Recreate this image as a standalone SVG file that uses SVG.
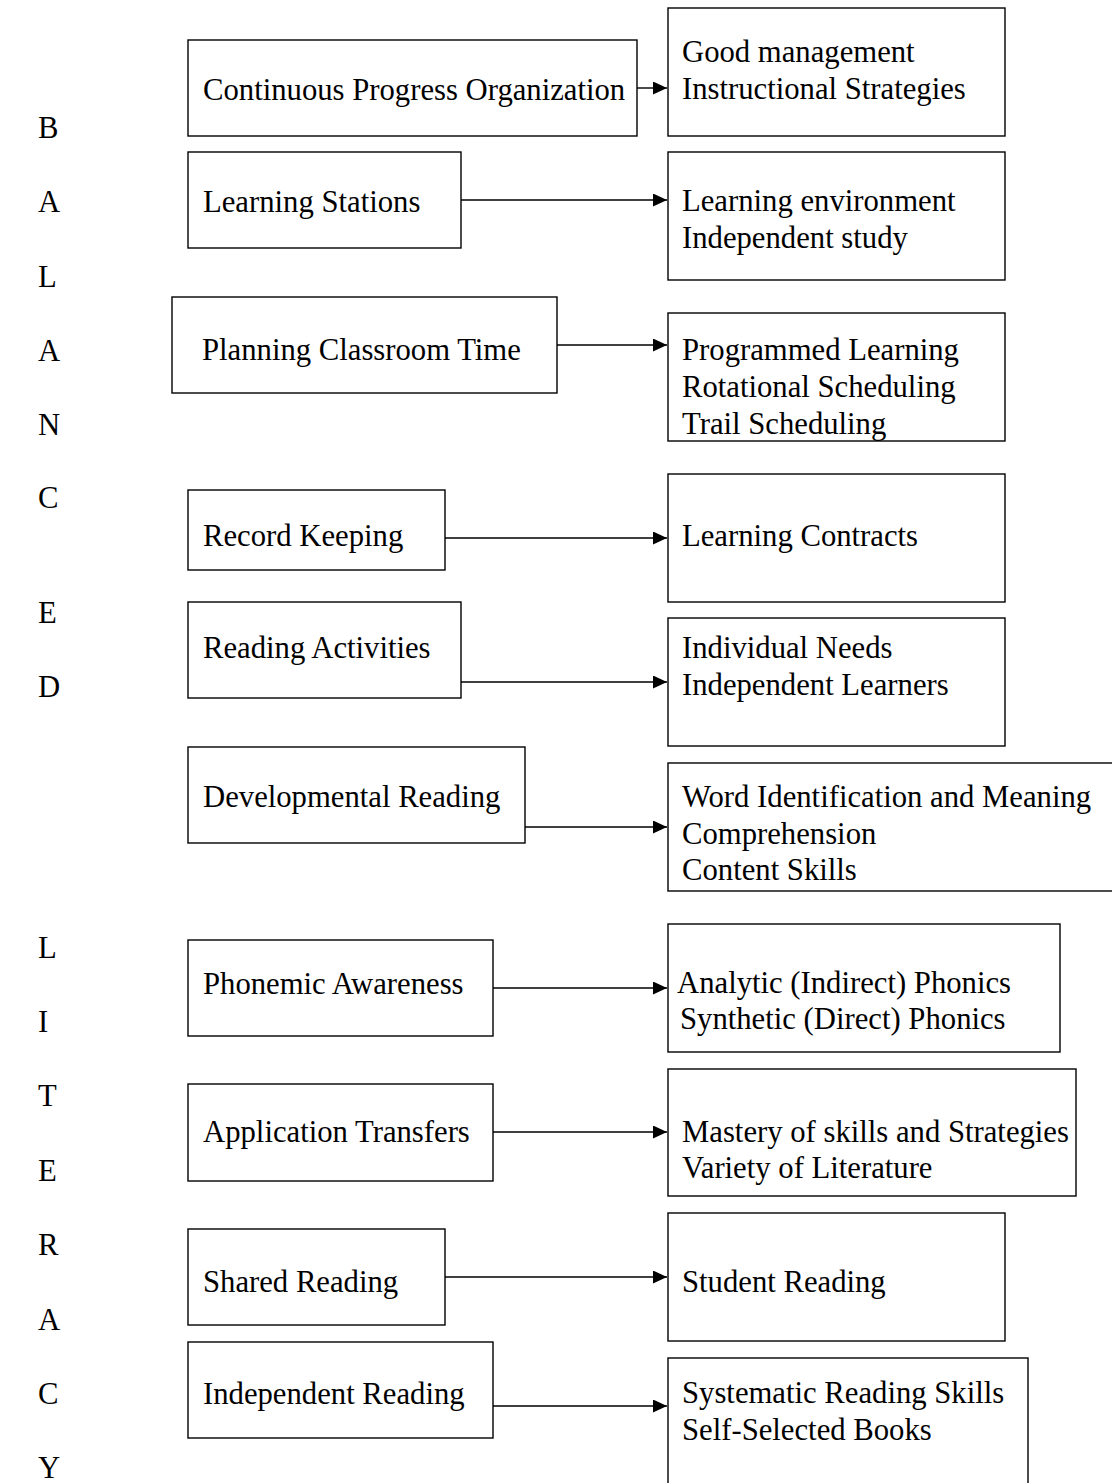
<svg xmlns="http://www.w3.org/2000/svg" width="1112" height="1483" viewBox="0 0 1112 1483">
<style>
  .box { fill: #ffffff; stroke: #000000; stroke-width: 1.4; }
  .t { font-family: "Liberation Serif", "Times New Roman", serif; font-size: 30.7px; fill: #000000; }
  .c { stroke: #000000; stroke-width: 1.4; fill: none; marker-end: url(#ah); }
</style>
<defs>
  <marker id="ah" markerUnits="userSpaceOnUse" markerWidth="15" markerHeight="14" refX="14" refY="6.5" orient="auto">
    <path d="M0,0 L14,6.5 L0,13 Z" fill="#000000"/>
  </marker>
</defs>
<rect width="1112" height="1483" fill="#ffffff"/>

<g id="side-letters">
  <text class="t" x="38" y="138">B</text>
  <text class="t" x="38" y="212">A</text>
  <text class="t" x="38" y="287">L</text>
  <text class="t" x="38" y="361">A</text>
  <text class="t" x="38" y="435">N</text>
  <text class="t" x="38" y="508">C</text>
  <text class="t" x="38" y="623">E</text>
  <text class="t" x="38" y="697">D</text>
  <text class="t" x="38" y="958">L</text>
  <text class="t" x="38" y="1032">I</text>
  <text class="t" x="38" y="1106">T</text>
  <text class="t" x="38" y="1181">E</text>
  <text class="t" x="38" y="1255">R</text>
  <text class="t" x="38" y="1330">A</text>
  <text class="t" x="38" y="1404">C</text>
  <text class="t" x="38" y="1478">Y</text>
</g>

<g id="connectors">
  <line class="c" x1="637" y1="88" x2="667" y2="88"/>
  <line class="c" x1="461" y1="200" x2="667" y2="200"/>
  <line class="c" x1="557" y1="345" x2="667" y2="345"/>
  <line class="c" x1="445" y1="538" x2="667" y2="538"/>
  <line class="c" x1="461" y1="682" x2="667" y2="682"/>
  <line class="c" x1="525" y1="827" x2="667" y2="827"/>
  <line class="c" x1="493" y1="988" x2="667" y2="988"/>
  <line class="c" x1="493" y1="1132" x2="667" y2="1132"/>
  <line class="c" x1="445" y1="1277" x2="667" y2="1277"/>
  <line class="c" x1="493" y1="1406" x2="667" y2="1406"/>
</g>

<g id="n-continuous">
  <rect class="box" x="188" y="40" width="449" height="96"/>
  <text class="t" x="203" y="100">Continuous Progress Organization</text>
</g>
<g id="n-good-management">
  <rect class="box" x="668" y="8" width="337" height="128"/>
  <text class="t" x="682" y="62">Good management</text>
  <text class="t" x="682" y="99">Instructional Strategies</text>
</g>

<g id="n-learning-stations">
  <rect class="box" x="188" y="152" width="273" height="96"/>
  <text class="t" x="203" y="212">Learning Stations</text>
</g>
<g id="n-learning-environment">
  <rect class="box" x="668" y="152" width="337" height="128"/>
  <text class="t" x="682" y="211">Learning environment</text>
  <text class="t" x="682" y="248">Independent study</text>
</g>

<g id="n-planning">
  <rect class="box" x="172" y="297" width="385" height="96"/>
  <text class="t" x="202" y="360">Planning Classroom Time</text>
</g>
<g id="n-programmed">
  <rect class="box" x="668" y="313" width="337" height="128"/>
  <text class="t" x="682" y="360">Programmed Learning</text>
  <text class="t" x="682" y="397">Rotational Scheduling</text>
  <text class="t" x="682" y="434">Trail Scheduling</text>
</g>

<g id="n-record-keeping">
  <rect class="box" x="188" y="490" width="257" height="80"/>
  <text class="t" x="203" y="546">Record Keeping</text>
</g>
<g id="n-learning-contracts">
  <rect class="box" x="668" y="474" width="337" height="128"/>
  <text class="t" x="682" y="546">Learning Contracts</text>
</g>

<g id="n-reading-activities">
  <rect class="box" x="188" y="602" width="273" height="96"/>
  <text class="t" x="203" y="658">Reading Activities</text>
</g>
<g id="n-individual-needs">
  <rect class="box" x="668" y="618" width="337" height="128"/>
  <text class="t" x="682" y="658">Individual Needs</text>
  <text class="t" x="682" y="695">Independent Learners</text>
</g>

<g id="n-developmental">
  <rect class="box" x="188" y="747" width="337" height="96"/>
  <text class="t" x="203" y="807">Developmental Reading</text>
</g>
<g id="n-word-identification">
  <rect class="box" x="668" y="763" width="470" height="128"/>
  <text class="t" x="682" y="807">Word Identification and Meaning</text>
  <text class="t" x="682" y="844">Comprehension</text>
  <text class="t" x="682" y="880">Content Skills</text>
</g>

<g id="n-phonemic">
  <rect class="box" x="188" y="940" width="305" height="96"/>
  <text class="t" x="203" y="994">Phonemic Awareness</text>
</g>
<g id="n-phonics">
  <rect class="box" x="668" y="924" width="392" height="128"/>
  <text class="t" x="677" y="993">Analytic (Indirect) Phonics</text>
  <text class="t" x="680" y="1029">Synthetic (Direct) Phonics</text>
</g>

<g id="n-application">
  <rect class="box" x="188" y="1084" width="305" height="97"/>
  <text class="t" x="203" y="1142">Application Transfers</text>
</g>
<g id="n-mastery">
  <rect class="box" x="668" y="1069" width="408" height="127"/>
  <text class="t" x="682" y="1142">Mastery of skills and Strategies</text>
  <text class="t" x="682" y="1178">Variety of Literature</text>
</g>

<g id="n-shared">
  <rect class="box" x="188" y="1229" width="257" height="96"/>
  <text class="t" x="203" y="1292">Shared Reading</text>
</g>
<g id="n-student-reading">
  <rect class="box" x="668" y="1213" width="337" height="128"/>
  <text class="t" x="682" y="1292">Student Reading</text>
</g>

<g id="n-independent">
  <rect class="box" x="188" y="1342" width="305" height="96"/>
  <text class="t" x="203" y="1404">Independent Reading</text>
</g>
<g id="n-systematic">
  <rect class="box" x="668" y="1358" width="360" height="140"/>
  <text class="t" x="682" y="1403">Systematic Reading Skills</text>
  <text class="t" x="682" y="1440">Self-Selected Books</text>
</g>
</svg>
